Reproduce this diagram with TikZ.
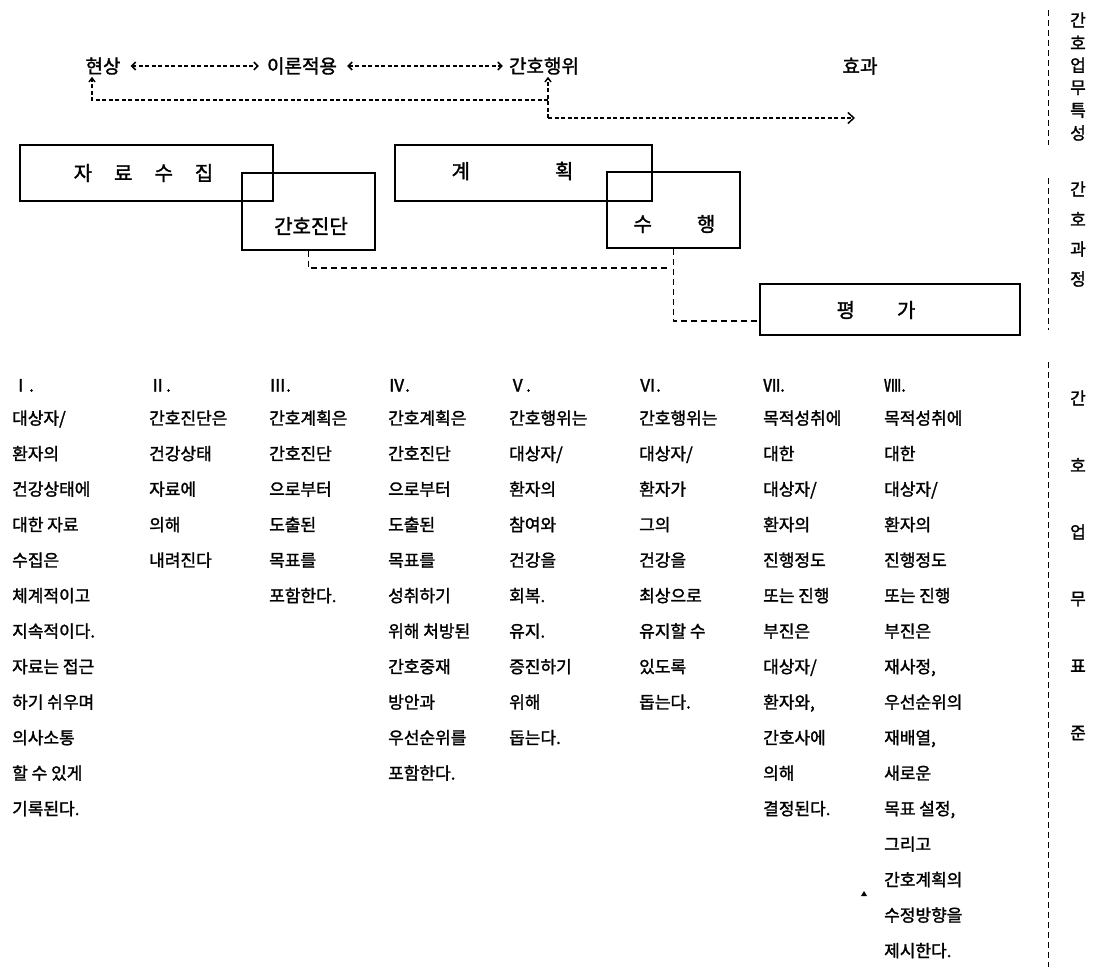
\documentclass[tikz,border=0pt]{standalone}
\usepackage{fontspec}
\setmainfont{Noto Sans CJK KR}[FakeBold=1.6]
\usetikzlibrary{arrows.meta}
\newcommand\mycol[4]{% name, x, numeral, lines
  \node[coltext] (h#1) at (#2,391.5) {#3};
  \foreach \t [count=\i from 0] in {#4}
    \node[coltext] (l#1-\i) at (#2,{424.5+35.5*\i}) {\t};
}
\begin{document}
\begin{tikzpicture}[x=1pt,y=-1pt,
  box/.style={draw, line width=1.6pt, inner sep=0pt},
  boxtext/.style={font=\fontsize{20}{24}\selectfont, inner sep=0pt},
  toptext/.style={font=\fontsize{19}{23}\selectfont, inner sep=2pt},
  coltext/.style={font=\fontsize{17}{20}\selectfont, inner sep=0pt, anchor=base west},
  sidetext/.style={font=\fontsize{17}{20}\selectfont, inner sep=0pt},
  dsh/.style={dash pattern=on 6pt off 4pt, line width=1.1pt},
  tdsh/.style={dash pattern=on 4pt off 2.5pt, line width=1.3pt},
  vdsh/.style={dash pattern=on 6pt off 4pt, line width=1pt}
]
\useasboundingbox (0,0) rectangle (1094,967);

% top row
\node[toptext] (n1) at (103,66) {현상};
\node[toptext] (n2) at (302,66) {이론적용};
\node[toptext] (n3) at (544,66) {간호행위};
\node[toptext] (n4) at (860,66) {효과};
\draw[tdsh, {Straight Barb[length=4pt,width=8pt,line width=1.5pt]}-{Straight Barb[length=4pt,width=8pt,line width=1.5pt]}, shorten <=8pt, shorten >=6pt] (n1) -- (n2);
\draw[tdsh, {Straight Barb[length=4pt,width=8pt,line width=1.5pt]}-{Straight Barb[length=4pt,width=8pt,line width=1.5pt]}, shorten <=8pt, shorten >=4pt] (n2) -- (n3);
\coordinate (ca) at (92,100);
\coordinate (cb) at (548,100);
\coordinate (cc) at (548,118);
\coordinate (cd) at (855,118);
\draw[tdsh, -{Straight Barb[length=4pt,width=6pt,line width=1.4pt]}] (cb) -- (ca) -- (ca |- n1.south);
\draw[tdsh, -{Straight Barb[length=4pt,width=6pt,line width=1.4pt]}] (cc) -- (cc |- n3.south);
\draw[tdsh, -{Straight Barb[length=6pt,width=11pt,line width=1.5pt]}] (cc) -- (cd);

% process boxes
\node[box, minimum width=253pt, minimum height=56pt] (d1) at (146.5,173) {};
\node[box, minimum width=133pt, minimum height=77pt] (d2) at (308.5,211.5) {};
\node[box, minimum width=257pt, minimum height=56pt] (d3) at (523.5,173) {};
\node[box, minimum width=133pt, minimum height=76pt] (d4) at (673.5,210) {};
\node[box, minimum width=260pt, minimum height=51pt] (d5) at (890,309.5) {};
\node[boxtext] (t1) at (143.5,173) {자\hspace{22pt}료\hspace{22pt}수\hspace{22pt}집};
\node[boxtext] (t2) at (311,226) {간호진단};
\node[boxtext] (t3) at (512.5,171) {계\hspace{85pt}획};
\node[boxtext] (t4) at (674.5,224) {수\hspace{45pt}행};
\node[boxtext] (t5) at (876,310) {평\hspace{42pt}가};
\coordinate (m1) at (668,268);
\coordinate (q5) at (0,321);
\draw[dsh] (d2.south) |- (m1);
\draw[dsh] (d4.south) |- (d5.west |- q5);

% right side labels
\coordinate (r1a) at (1048,10);  \coordinate (r1b) at (1048,145);
\coordinate (r2a) at (1048,178); \coordinate (r2b) at (1048,330);
\coordinate (r3a) at (1048,362); \coordinate (r3b) at (1048,967);
\draw[vdsh] (r1a) -- (r1b);
\draw[vdsh] (r2a) -- (r2b);
\draw[vdsh] (r3a) -- (r3b);
\foreach \c [count=\i from 0] in {간,호,업,무,특,성}
  \node[sidetext] (sa-\i) at (1078,{20+22.6*\i}) {\c};
\foreach \c [count=\i from 0] in {간,호,과,정}
  \node[sidetext] (sb-\i) at (1078,{189+30*\i}) {\c};
\foreach \c [count=\i from 0] in {간,호,업,무,표,준}
  \node[sidetext] (sc-\i) at (1078,{398+67*\i}) {\c};

% columns
\mycol{a}{12}{Ⅰ.}{{대상자/},{환자의},{건강상태에},{대한 자료},{수집은},{체계적이고},{지속적이다.},{자료는 접근},{하기 쉬우며},{의사소통},{할 수 있게},{기록된다.}}
\mycol{b}{149}{Ⅱ.}{{간호진단은},{건강상태},{자료에},{의해},{내려진다}}
\mycol{c}{269}{Ⅲ.}{{간호계획은},{간호진단},{으로부터},{도출된},{목표를},{포함한다.}}
\mycol{d}{388}{Ⅳ.}{{간호계획은},{간호진단},{으로부터},{도출된},{목표를},{성취하기},{위해 처방된},{간호중재},{방안과},{우선순위를},{포함한다.}}
\mycol{e}{509}{Ⅴ.}{{간호행위는},{대상자/},{환자의},{참여와},{건강을},{회복.},{유지.},{증진하기},{위해},{돕는다.}}
\mycol{f}{639}{Ⅵ.}{{간호행위는},{대상자/},{환자가},{그의},{건강을},{최상으로},{유지할 수},{있도록},{돕는다.}}
\mycol{g}{763}{Ⅶ.}{{목적성취에},{대한},{대상자/},{환자의},{진행정도},{또는 진행},{부진은},{대상자/},{환자와,},{간호사에},{의해},{결정된다.}}
\mycol{h}{884}{Ⅷ.}{{목적성취에},{대한},{대상자/},{환자의},{진행정도},{또는 진행},{부진은},{재사정,},{우선순위의},{재배열,},{새로운},{목표 설정,},{그리고},{간호계획의},{수정방향을},{제시한다.}}

% small mark
\fill (864,891) -- (867,896) -- (861,896) -- cycle;
\end{tikzpicture}
\end{document}
